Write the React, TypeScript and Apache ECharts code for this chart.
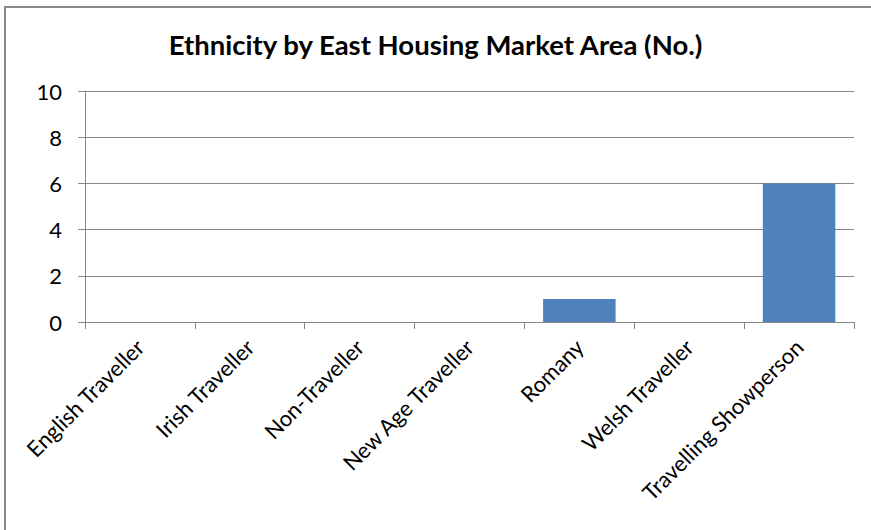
import React, { useEffect, useRef } from "react";
import * as echarts from "echarts";

const categories = [
  "English Traveller",
  "Irish Traveller",
  "Non-Traveller",
  "New Age Traveller",
  "Romany",
  "Welsh Traveller",
  "Travelling Showperson",
];
const values = [0, 0, 0, 0, 1, 0, 6];
const yTicks = { min: 0, max: 10, interval: 2 };
const title = "Ethnicity by East Housing Market Area (No.)";

export default function App() {
  const ref = useRef<HTMLDivElement>(null);
  useEffect(() => {
    if (!ref.current) return;
    const chart = echarts.init(ref.current, undefined, { renderer: "svg" });
    const font = "Lato, 'Open Sans', sans-serif";
    chart.setOption({
      animation: false,
      backgroundColor: "#fff",
      title: {
        text: title,
        left: "center",
        top: 25,
        textStyle: { fontFamily: font, fontSize: 27.5, fontWeight: "bold", color: "#000" },
      },
      graphic: [
        {
          type: "rect",
          shape: { x: 5, y: 7, width: 900, height: 560 },
          style: { fill: "none", stroke: "#888", lineWidth: 2 },
          silent: true,
        },
      ],
      grid: { left: 85, right: 17, top: 91, bottom: 208, containLabel: false },
      xAxis: {
        type: "category",
        data: categories,
        axisLine: { lineStyle: { color: "#868686", width: 1 } },
        axisTick: { show: true, alignWithLabel: false, length: 7, lineStyle: { color: "#868686" } },
        axisLabel: {
          rotate: 45,
          interval: 0,
          margin: 21,
          fontFamily: font,
          fontSize: 22,
          color: "#000",
        },
      },
      yAxis: {
        type: "value",
        min: yTicks.min,
        max: yTicks.max,
        interval: yTicks.interval,
        axisLine: { show: true, lineStyle: { color: "#868686", width: 1 } },
        axisTick: { show: true, length: 7, lineStyle: { color: "#868686" } },
        splitLine: { lineStyle: { color: "#868686", width: 1 } },
        axisLabel: { margin: 23, fontFamily: font, fontSize: 22, color: "#000" },
      },
      series: [
        {
          type: "bar",
          data: values,
          barCategoryGap: "34%",
          itemStyle: { color: "#4F81BD" },
        },
      ],
    });
    return () => chart.dispose();
  }, []);
  return (
    <div
      ref={ref}
      style={{ position: "fixed", left: 0, top: 0, width: 871, height: 530 }}
    />
  );
}
